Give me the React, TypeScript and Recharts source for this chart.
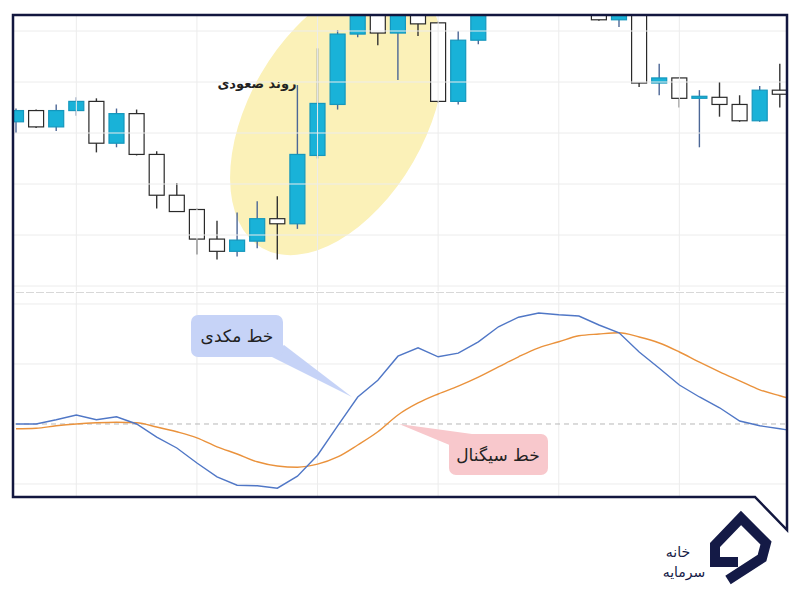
import { ComposedChart, Bar, Line, XAxis, YAxis, ReferenceLine } from "recharts";

// candle index (one per session); 39 is just past the right edge of the frame
const sessions = [0, 1, 2, 3, 4, 5, 6, 7, 8, 9, 10, 11, 12, 13, 14, 15, 16, 17, 18, 19, 20, 21, 22, 23, 24, 25, 26, 27, 28, 29, 30, 31, 32, 33, 34, 35, 36, 37, 38, 39];
const gridSessions = [3, 9, 15, 21, 27, 33];

const opens = [1161, 1172, 1156, 1172, 1181, 1140, 1169, 1129, 1089, 1075, 1046, 1034, 1044, 1066, 1061, 1128, 1178, 1247, 1270, 1248, 1275, 1258, 1181, 1241, 1272, 1295, 1318, 1305, 1320, 1285, 1261, 1283, 1199, 1204, 1185, 1185, 1178, 1162, 1192, 1188];
const closes = [1172, 1156, 1172, 1181, 1140, 1169, 1129, 1089, 1073, 1046, 1034, 1045, 1066, 1061, 1129, 1179, 1247, 1272, 1248, 1280, 1257, 1181, 1241, 1272, 1295, 1318, 1305, 1320, 1285, 1261, 1285, 1199, 1204, 1184, 1186, 1178, 1162, 1192, 1188, 1190];
const highs = [1174, 1173, 1178, 1185, 1184, 1174, 1173, 1132, 1101, 1076, 1064, 1072, 1083, 1088, 1197, 1233, 1251, 1278, 1275, 1285, 1280, 1259, 1250, 1277, 1300, 1322, 1325, 1326, 1324, 1288, 1290, 1287, 1218, 1205, 1192, 1200, 1187, 1196, 1218, 1196];
const lows = [1150, 1155, 1152, 1167, 1131, 1136, 1128, 1076, 1073, 1031, 1026, 1029, 1037, 1026, 1056, 1125, 1173, 1244, 1236, 1202, 1245, 1180, 1178, 1237, 1270, 1290, 1300, 1298, 1280, 1260, 1254, 1195, 1187, 1175, 1136, 1166, 1161, 1161, 1175, 1180];
const priceTicks = [1000, 1050, 1100, 1150, 1200, 1250];

const macdVals = [0, 0, 0.7, 1.5, 0.7, 1.2, 0, -2.2, -4, -6.5, -8.8, -10.2, -10.3, -10.7, -8.7, -5.2, -0.3, 4.5, 7.3, 11.3, 12.7, 11.2, 11.8, 13.7, 16.2, 17.8, 18.5, 18.2, 18, 16.5, 15.2, 12, 9.3, 6.5, 4.5, 2.7, 0.5, -0.3, -0.8, -1.3];
const signalVals = [-0.8, -0.7, -0.3, 0, 0.2, 0.3, 0.2, -0.5, -1.3, -2.3, -3.8, -5, -6.3, -7, -7.2, -6.7, -5.5, -3.5, -1.3, 1.5, 3.5, 5, 6.3, 7.8, 9.5, 11.2, 12.7, 13.7, 14.7, 15, 15.2, 14.5, 13.5, 12, 10.3, 8.7, 7.2, 5.7, 4.7, 3.8];
const macdGrid = [-10, 10, 20];

const candles = sessions.map((i) => ({ i, open: opens[i], close: closes[i], high: highs[i], low: lows[i] }));
const macdRows = sessions.map((i) => ({ i, macd: macdVals[i], signal: signalVals[i] }));

const UP = "#19b2d8";
const UP_EDGE = "#1597bd";
const EDGE = "#2a2a2a";
const GRID = "#ececec";
// the macd pane has no bars, so its axis is a point scale: pad it by half a candle slot
const HALF_SLOT = { left: 10, right: 10 };

function Wick(p: any) {
  const cx = p.x + p.width / 2;
  const top = Math.min(p.y, p.y + p.height);
  const up = p.payload.close >= p.payload.open;
  return <line x1={cx} x2={cx} y1={top} y2={top + Math.abs(p.height)} stroke={up ? "#4c6796" : "#333"} strokeWidth={1.4} />;
}

function Body(p: any) {
  const top = Math.min(p.y, p.y + p.height);
  const h = Math.max(Math.abs(p.height), 2);
  const up = p.payload.close >= p.payload.open;
  return (
    <rect
      x={p.x + 0.5}
      y={top}
      width={p.width - 1}
      height={h}
      fill={up ? UP : "#ffffff"}
      stroke={up ? UP_EDGE : EDGE}
      strokeWidth={1.2}
    />
  );
}

const noMargin = { top: 0, right: 0, bottom: 0, left: 0 };

export default function App() {
  return (
    <div style={{ position: "absolute", left: 0, top: 0, width: 800, height: 600, background: "#fff", fontFamily: "'DejaVu Sans', sans-serif" }}>
      <div style={{ position: "absolute", left: 13, top: 15, width: 774, height: 482, overflow: "hidden" }}>
        <svg width={800} height={600} style={{ position: "absolute", left: -13, top: -15 }}>
          <ellipse cx={337} cy={118} rx={150} ry={88} transform="rotate(-60 337 118)" fill="#fbf1b8" />
        </svg>
        <div style={{ position: "absolute", left: -7, top: 0 }}>
          <ComposedChart width={804} height={276} data={candles} margin={noMargin}>
            <XAxis xAxisId="w" dataKey="i" hide />
            <XAxis xAxisId="b" dataKey="i" hide />
            <YAxis domain={[995.1, 1265.7]} allowDataOverflow hide />
            {priceTicks.map((v) => (
              <ReferenceLine key={"h" + v} xAxisId="b" y={v} stroke={GRID} />
            ))}
            {gridSessions.map((s) => (
              <ReferenceLine key={"v" + s} xAxisId="b" x={s} stroke={GRID} />
            ))}
            <Bar xAxisId="w" dataKey={(d: any) => [d.low, d.high]} barSize={16} shape={Wick} isAnimationActive={false} />
            <Bar xAxisId="b" dataKey={(d: any) => [Math.min(d.open, d.close), Math.max(d.open, d.close)]} barSize={16} shape={Body} isAnimationActive={false} />
          </ComposedChart>
        </div>
        <div style={{ position: "absolute", left: -7, top: 277 }}>
          <ComposedChart width={804} height={205} data={macdRows} margin={noMargin}>
            <XAxis dataKey="i" hide padding={HALF_SLOT} />
            <YAxis domain={[-12.17, 22]} allowDataOverflow hide />
            {macdGrid.map((v) => (
              <ReferenceLine key={"h" + v} y={v} stroke={GRID} />
            ))}
            {gridSessions.map((s) => (
              <ReferenceLine key={"v" + s} x={s} stroke={GRID} />
            ))}
            <ReferenceLine y={0} stroke="#b8b8b8" strokeDasharray="5 4" />
            <ReferenceLine y={22} stroke="#d8d8d8" strokeDasharray="8 2" strokeWidth={2} ifOverflow="visible" />
            <Line dataKey="signal" type="monotone" stroke="#ea923c" strokeWidth={1.4} dot={false} isAnimationActive={false} />
            <Line dataKey="macd" type="linear" stroke="#5077c6" strokeWidth={1.4} dot={false} isAnimationActive={false} />
          </ComposedChart>
        </div>
      </div>

      <svg width={800} height={600} style={{ position: "absolute", left: 0, top: 0, pointerEvents: "none" }}>
        <path d="M13 15 H787 V530 L755 497 H13 Z" fill="none" stroke="#12173f" strokeWidth={2.5} />
        <text x={257} y={88} textAnchor="middle" fontSize={13} fontWeight="bold" fill="#222">روند صعودی</text>

        <polygon points="270,356 284,345 352,397" fill="#c6d3f7" />
        <rect x={191} y={315} width={92} height={42} rx={7} fill="#c6d3f7" />
        <text x={237} y={342} textAnchor="middle" fontSize={17} fill="#222">خط مکدی</text>

        <polygon points="399,424 452,446 472,434" fill="#f8c8cc" />
        <rect x={449} y={434} width={99} height={41} rx={7} fill="#f8c8cc" />
        <text x={498} y={461} textAnchor="middle" fontSize={17} fill="#222">خط سیگنال</text>

        <polyline points="738,562 715,562 715,545 741,518 766,543 762,558 728,580" fill="none" stroke="#141a46" strokeWidth={10} strokeLinejoin="miter" />
        <text x={678} y={557} textAnchor="middle" fontSize={14} fill="#141a46">خانه</text>
        <text x={684} y={577} textAnchor="middle" fontSize={14} fill="#141a46">سرمایه</text>
      </svg>
    </div>
  );
}
